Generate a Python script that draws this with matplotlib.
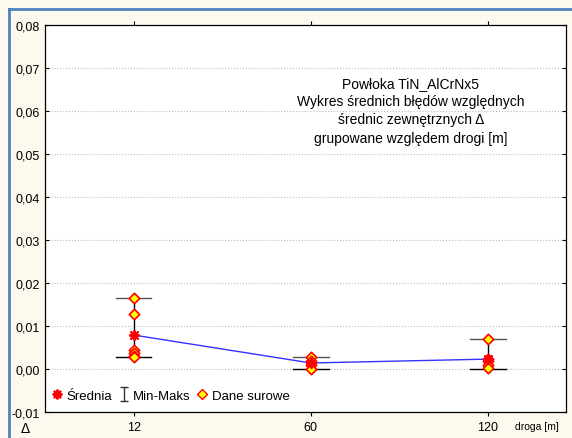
import numpy as np
import matplotlib.pyplot as plt
from matplotlib.lines import Line2D
from matplotlib.path import Path

plt.rcParams['font.family'] = ['Liberation Sans', 'DejaVu Sans']

# data
droga = ["12", "60", "120"]
srednia = [0.0079, 0.0014, 0.0023]
min_val = [0.0028, 0.0001, 0.0001]
max_val = [0.0166, 0.0027, 0.0070]
raw_12 = [0.0166, 0.0127, 0.0045, 0.0037, 0.0031, 0.0028]
raw_60 = [0.0027, 0.0019, 0.0009, 0.0001]
raw_120 = [0.0070, 0.0024, 0.0019, 0.0009, 0.0002]
raw = [raw_12, raw_60, raw_120]
yticks = np.arange(-0.01, 0.0801, 0.01)

fig = plt.figure(figsize=(5.72, 4.39), dpi=100)
fig.patch.set_facecolor("#fef9ee")
ax = fig.add_axes([45/572, 1 - 413/439, 521/572, 387/439])
ax.set_facecolor("white")

x = np.arange(len(droga))

# whiskers min-max
for i in x:
    ax.plot([i, i], [min_val[i], max_val[i]], color="black", lw=1, zorder=2)
    ax.plot([i - 0.1, i + 0.1], [min_val[i]] * 2, color="black", lw=1, zorder=2)
    ax.plot([i - 0.1, i + 0.1], [max_val[i]] * 2, color="#555555", lw=1, zorder=2)

ax.plot(x, srednia, color="#3333ff", lw=1, zorder=3)

for i in x:
    ax.scatter([i] * len(raw[i]), raw[i], marker="D", s=28, facecolor="yellow",
               edgecolor="red", linewidth=1.2, zorder=4)

ax.scatter(x, srednia, marker=(8, 2, 0), s=45, color="red", linewidth=1.4, zorder=5)

ax.set_xlim(-0.5, 2.44)
ax.set_ylim(-0.01, 0.08)
ax.set_xticks(x)
ax.set_xticklabels(droga)
ax.set_yticks(yticks)
ax.set_yticklabels([f"{v:.2f}".replace(".", ",") for v in yticks])
ax.tick_params(labelsize=9, length=3, top=True, direction="out")
ax.tick_params(axis="y", right=True, direction="in")
ax.yaxis.grid(True, linestyle=":", color="#bbbbbb", lw=0.8)
for s in ax.spines.values():
    s.set_linewidth(0.9)

ax.text(0.702, 0.78, "Powłoka TiN_AlCrNx5\nWykres średnich błędów względnych\n"
        "średnic zewnętrznych Δ\ngrupowane względem drogi [m]",
        transform=ax.transAxes, ha="center", va="center", fontsize=10,
        linespacing=1.4)

# I-bar marker for the min-max entry
ibar = Path([(-0.6, -1), (0.6, -1), (0, -1), (0, 1), (-0.6, 1), (0.6, 1)],
            [Path.MOVETO, Path.LINETO, Path.MOVETO, Path.LINETO, Path.MOVETO, Path.LINETO])

handles = [
    Line2D([], [], ls="none", marker=(8, 2, 0), color="red", markersize=7, mew=1.5),
    Line2D([], [], ls="none", marker=ibar, color="#333333", markersize=10, mew=1),
    Line2D([], [], ls="none", marker="D", markerfacecolor="yellow",
           markeredgecolor="red", markersize=5),
]
leg = ax.legend(handles, ["Średnia", "Min-Maks", "Dane surowe"], loc="lower left",
                ncol=3, frameon=False, fontsize=9.5, handlelength=0.8,
                handletextpad=0.3, columnspacing=0.5, bbox_to_anchor=(-0.01, -0.005))

fig.text(25/572, 1 - 429/439, "Δ", fontsize=10, ha="center", va="center")
fig.text(537/572, 1 - 427/439, "droga [m]", fontsize=7.5, ha="center", va="center")

# blue frame lines
fig.add_artist(Line2D([9/572, 9/572], [0, 1 - 10/439], color="#4f81bd", lw=2,
                      transform=fig.transFigure))
fig.add_artist(Line2D([9/572, 1], [1 - 10/439] * 2, color="#4f81bd", lw=2,
                      transform=fig.transFigure))

fig.savefig("out.png", dpi=100, facecolor=fig.get_facecolor())
